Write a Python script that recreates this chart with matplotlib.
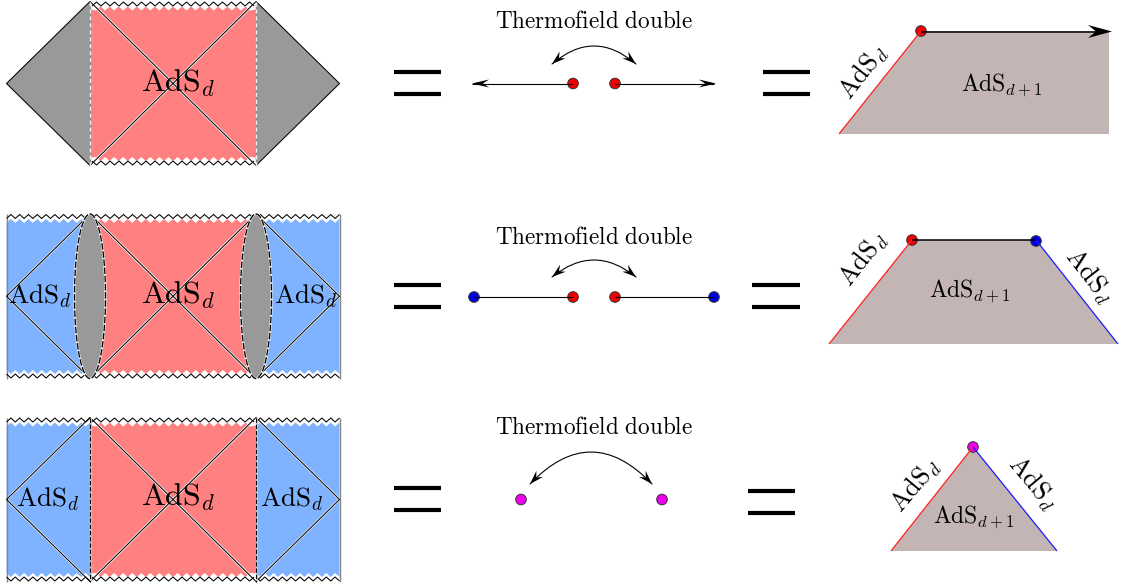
import numpy as np
import matplotlib
matplotlib.use('Agg')
import matplotlib.pyplot as plt
from matplotlib.patches import Polygon, FancyArrowPatch, Circle

plt.rcParams['mathtext.fontset'] = 'cm'

PINK = '#ff8080'
BLUE = '#80b3ff'
GRAY = '#999999'
BROWN = '#c4b5b5'

ADS = r'$\mathrm{AdS}_d$'
ADS1 = r'$\mathrm{AdS}_{d+1}$'
TFD = r'$\mathrm{Thermofield\ double}$'

# all coordinates are reference pixels
x_tip_l, x_wall_l, x_wall_r, x_tip_r = 6.5, 90, 256, 339.5
row_top = [1.5, 214, 417.5]
row_bot = [165.5, 378.5, 581.5]

eq_rows = [(83, 394, 441, 763, 810), (296, 394, 441, 752, 800), (499, 394, 441, 748, 795), ]
eq_right_mid = [83, 296, 502]

title_y = [22, 237, 427]
bend_ends = [(552, 64, 636, 64, 46), (552, 277, 636, 277, 260), (530, 484, 652, 484, 452)]

fig = plt.figure(figsize=(11.21, 5.88), dpi=100)
ax = fig.add_axes([0, 0, 1, 1])
ax.set_xlim(0, 1121)
ax.set_ylim(588, 0)
ax.axis('off')


def zigzag(x0, x1, y, sign):
    # wiggly singularity edge, sign picks which way the teeth point
    n = int(round((x1 - x0) / 4.5))
    xs = np.linspace(x0, x1, n + 1)
    ys = y + sign * 4 * (np.arange(n + 1) % 2)
    return xs, ys


def line(xs, ys, color='black', lw=0.75, z=5, **kw):
    ax.plot(xs, ys, color=color, lw=lw, zorder=z, solid_capstyle='butt', **kw)


def dot(x, y, color, z=4):
    ax.add_patch(Circle((x, y), 5.3, fc=color, ec='#333333', lw=0.7, zorder=z))


def stealth(tip_x, tip_y, ang, length, half, notch):
    # concave tikz style head, ang in degrees is the pointing direction
    a = np.radians(ang)
    ux, uy = np.cos(a), np.sin(a)
    nx, ny = -uy, ux
    pts = [(tip_x, tip_y),
           (tip_x - length * ux + half * nx, tip_y - length * uy + half * ny),
           (tip_x - notch * ux, tip_y - notch * uy),
           (tip_x - length * ux - half * nx, tip_y - length * uy - half * ny)]
    ax.add_patch(Polygon(pts, fc='black', ec='none', zorder=9))


def penrose(top, bot, sides, lens=False, dash='black'):
    mid = (top + bot) / 2
    # central pink block between zigzags
    xt, yt = zigzag(x_wall_l + 6, x_wall_r - 6, top + 4.5, -1)
    xb, yb = zigzag(x_wall_l + 6, x_wall_r - 6, bot - 4.5, 1)
    pts = list(zip(xt, yt + 4.5)) + [(x_wall_r, top + 8), (x_wall_r, bot - 8)] + \
        list(zip(xb[::-1], yb[::-1] - 4)) + [(x_wall_l, bot - 8), (x_wall_l, top + 8)]
    ax.add_patch(Polygon(pts, fc=PINK, ec='none', zorder=1))

    if sides == 'gray':
        ax.add_patch(Polygon([(x_wall_l, top), (x_tip_l, mid), (x_wall_l, bot)], fc=GRAY, ec='none', zorder=1))
        ax.add_patch(Polygon([(x_wall_r, top), (x_tip_r, mid), (x_wall_r, bot)], fc=GRAY, ec='none', zorder=1))
        line([x_wall_l, x_tip_l, x_wall_l], [top, mid, bot])
        line([x_wall_r, x_tip_r, x_wall_r], [top, mid, bot])
    else:
        for lo, hi in [(x_tip_l, x_wall_l), (x_wall_r, x_tip_r)]:
            xt, yt = zigzag(lo, hi, top + 4.5, -1)
            xb, yb = zigzag(lo, hi, bot - 4.5, 1)
            pts = list(zip(xt, yt + 4.5)) + [(hi, top + 8), (hi, bot - 8)] + list(zip(xb[::-1], yb[::-1] - 4))
            pts += [(lo, bot - 8), (lo, top + 8)]
            ax.add_patch(Polygon(pts, fc=BLUE, ec='none', zorder=1))
            line(xt, yt, z=6)
            line(xb, yb, z=6)
        for x in (x_tip_l, x_tip_r):
            line([x, x], [top, bot], color='#888888', lw=1.0)
        line([x_wall_l, x_tip_l, x_wall_l], [top, mid, bot], color='white', lw=1.6, z=4)
        line([x_wall_r, x_tip_r, x_wall_r], [top, mid, bot], color='white', lw=1.6, z=4)
        line([x_wall_l, x_tip_l, x_wall_l], [top, mid, bot])
        line([x_wall_r, x_tip_r, x_wall_r], [top, mid, bot])

    # diagonals through the middle
    line([x_wall_l, x_wall_r], [top, bot], color='white', lw=1.8, z=4)
    line([x_wall_l, x_wall_r], [bot, top], color='white', lw=1.8, z=4)
    line([x_wall_l, x_wall_r], [top, bot])
    line([x_wall_l, x_wall_r], [bot, top])

    # top and bottom singularities
    xt, yt = zigzag(x_wall_l + 2, x_wall_r - 2, top + 4.5, -1)
    xb, yb = zigzag(x_wall_l + 2, x_wall_r - 2, bot - 4.5, 1)
    line(xt, yt, z=6)
    line(xb, yb, z=6)

    # wall between regions
    for x in (x_wall_l, x_wall_r):
        if lens:
            t = np.linspace(0, np.pi, 80)
            ex = x + 15.5 * np.sin(t)
            ey = mid - (bot - top) / 2 * np.cos(t)
            outline = list(zip(ex, ey)) + list(zip(2 * x - ex[::-1], ey[::-1]))
            ax.add_patch(Polygon(outline, fc=GRAY, ec='white', lw=1.6, zorder=7))
            ax.add_patch(Polygon(outline, fc='none', ec='black', lw=0.95, ls=(0, (5, 1.2)), zorder=8))
        elif dash == 'black':
            line([x + 0.8, x + 0.8], [top, bot], color='#c4c4c4', lw=1.5, z=6)
            ax.plot([x, x], [top, bot], color=dash, lw=0.75, ls=(0, (4, 2)), zorder=7)
        else:
            line([x, x], [top, bot], color='#8a8a8a', lw=1.0, z=6)
            ax.plot([x, x], [top, bot], color=dash, lw=1.0, ls=(0, (3, 2)), zorder=7)


penrose(row_top[0], row_bot[0], 'gray', dash='#f0f0f0')
penrose(row_top[1], row_bot[1], 'blue', lens=True)
penrose(row_top[2], row_bot[2], 'blue')

# labels on the penrose diagrams
ax.text(178, 83, ADS, fontsize=23, ha='center', va='center', zorder=10)
ax.text(178, 295, ADS, fontsize=23, ha='center', va='center', zorder=10)
ax.text(178, 497, ADS, fontsize=23, ha='center', va='center', zorder=10)
ax.text(40, 296, ADS, fontsize=19.5, ha='center', va='center', zorder=10)
ax.text(306, 296, ADS, fontsize=19.5, ha='center', va='center', zorder=10)
ax.text(48, 499, ADS, fontsize=19.5, ha='center', va='center', zorder=10)
ax.text(292, 499, ADS, fontsize=19.5, ha='center', va='center', zorder=10)

# equals signs
for (y, a0, a1, b0, b1), y_r in zip(eq_rows, eq_right_mid):
    for dy in (-11, 11):
        line([a0, a1], [y + dy, y + dy], lw=3.0)
        line([b0, b1], [y_r + dy, y_r + dy], lw=3.0)

# thermofield double column
for y in title_y:
    ax.text(594, y, TFD, fontsize=16.7, ha='center', va='center')
for x0, y0, x1, y1, peak in bend_ends:
    rad = -2 * (y0 - peak) / (x1 - x0)
    ax.add_patch(FancyArrowPatch((x0, y0), (x1, y1), connectionstyle=f'arc3,rad={rad}',
                                 arrowstyle='-', color='black',
                                 lw=0.8, shrinkA=0, shrinkB=0, zorder=9))
    tilt = np.degrees(np.arctan2(2 * (y0 - peak) * 2, x1 - x0))
    stealth(x0, y0, 180 - tilt, 14, 4.5, 9)
    stealth(x1, y1, tilt, 14, 4.5, 9)

line([472, 573], [83.5, 83.5], lw=0.8)
line([615, 714], [83.5, 83.5], lw=0.8)
stealth(472, 83.5, 180, 17, 4, 11)
stealth(716, 83.5, 0, 17, 4, 11)
dot(573, 83.5, '#f00000')
dot(615, 83.5, '#f00000')

line([474, 573], [297, 297], lw=0.8)
line([615, 714], [297, 297], lw=0.8)
dot(573, 297, '#f00000')
dot(615, 297, '#f00000')
dot(474, 297, '#0000e6')
dot(714, 297, '#0000e6')

dot(521, 499.5, '#f000f0')
dot(662, 499.5, '#f000f0')

# bulk wedges on the right
ax.add_patch(Polygon([(921, 31), (1109, 31), (1109, 134), (839, 134)], fc=BROWN, ec='none', zorder=1))
line([921, 839], [31, 134], color='#ff2020', lw=0.9)
line([921, 1098], [31.5, 31.5], lw=1.1)
stealth(1112, 31.5, 0, 24, 6.5, 16)
dot(921, 31, '#f00000')
ax.text(863, 72, ADS, fontsize=19, rotation=52, rotation_mode='anchor', ha='center', va='center')
ax.text(1002, 85, ADS1, fontsize=17, ha='center', va='center')

ax.add_patch(Polygon([(912, 240), (1036, 240), (1118, 344), (829, 344)], fc=BROWN, ec='none', zorder=1))
line([912, 829], [240, 344], color='#ff2020', lw=0.9)
line([1036, 1118], [240, 344], color='#1a1aff', lw=0.9)
line([912, 1036], [240, 240], lw=1.1)
dot(912, 240, '#f00000')
dot(1036, 241, '#0000e6')
ax.text(863, 259, ADS, fontsize=19, rotation=52, rotation_mode='anchor', ha='center', va='center')
ax.text(1089, 276, ADS, fontsize=19, rotation=-52, rotation_mode='anchor', ha='center', va='center')
ax.text(970, 291, ADS1, fontsize=17, ha='center', va='center')

ax.add_patch(Polygon([(973, 447), (1057, 551), (891, 551)], fc=BROWN, ec='none', zorder=1))
line([973, 891], [447, 551], color='#ff2020', lw=0.9)
line([973, 1057], [447, 551], color='#1a1aff', lw=0.9)
dot(973, 447, '#f000f0')
ax.text(915, 485, ADS, fontsize=19, rotation=50, rotation_mode='anchor', ha='center', va='center')
ax.text(1032, 483, ADS, fontsize=19, rotation=-50, rotation_mode='anchor', ha='center', va='center')
ax.text(974, 517, ADS1, fontsize=17, ha='center', va='center')

fig.savefig('out.png', dpi=100)
